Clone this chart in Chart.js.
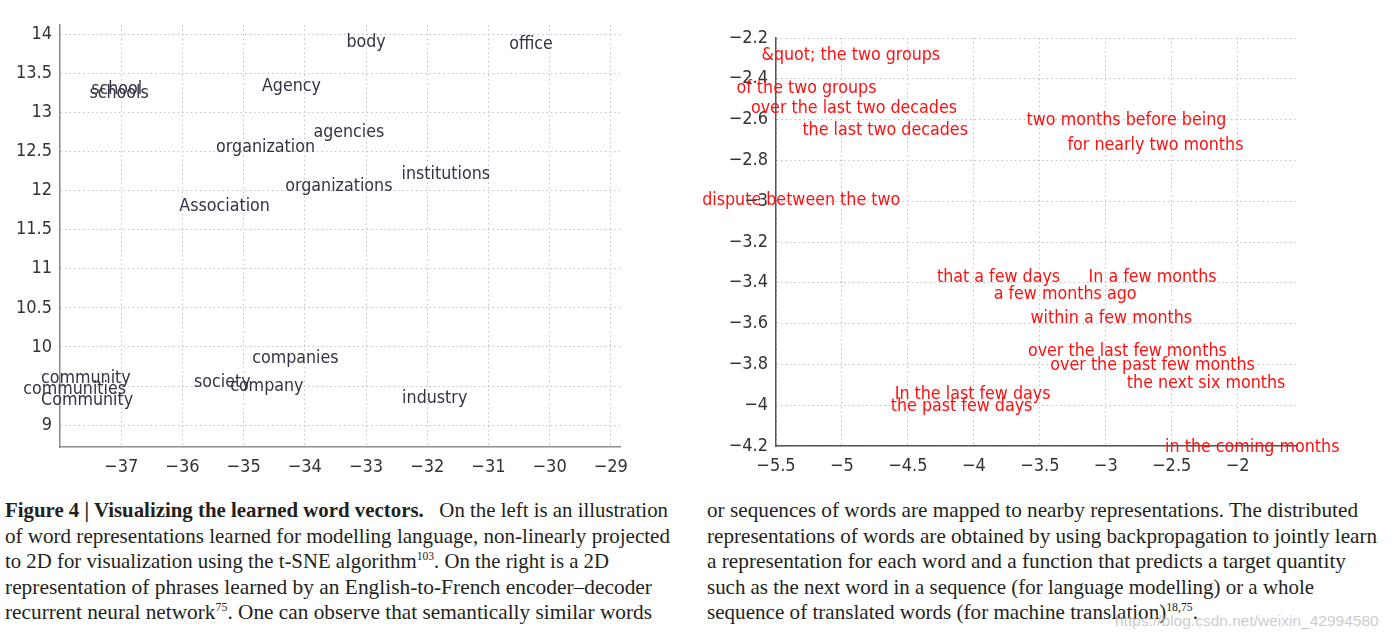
<!DOCTYPE html>
<html>
<head>
<meta charset="utf-8">
<script src="https://cdn.jsdelivr.net/npm/chart.js@4.4.1/dist/chart.umd.min.js"></script>
<style>
  body { margin: 0; background: #fff; width: 1393px; height: 641px; overflow: hidden; position: relative; }
  #leftBox { position: absolute; left: 0; top: 0; width: 640px; height: 480px; }
  #rightBox { position: absolute; left: 690px; top: 0; width: 680px; height: 480px; }
  .cap { position: absolute; top: 498px; font-family: "Liberation Serif", serif; font-size: 21.5px; color: #231f20; }
  .cap div { white-space: nowrap; height: 25.5px; line-height: 25.5px; }
  .cap .l { display: inline-block; transform-origin: 0 50%; }
  .cap sup { font-size: 12px; vertical-align: 8px; line-height: 0; }
  #mark { position: absolute; left: 1115px; top: 612px; font-family: "Liberation Sans", sans-serif; font-size: 15.5px; color: rgba(190,190,190,0.8); }
</style>
</head>
<body>
<div id="leftBox"><canvas id="leftChart"></canvas></div>
<div id="rightBox"><canvas id="rightChart"></canvas></div>

<div class="cap" style="left:5px">
  <div><span class="l" data-w="663"><b>Figure 4 | Visualizing the learned word vectors.</b>&nbsp;&nbsp; On the left is an illustration</span></div>
  <div><span class="l" data-w="665">of word representations learned for modelling language, non-linearly projected</span></div>
  <div><span class="l" data-w="604">to 2D for visualization using the t-SNE algorithm<sup>103</sup>. On the right is a 2D</span></div>
  <div><span class="l" data-w="647">representation of phrases learned by an English-to-French encoder–decoder</span></div>
  <div><span class="l" data-w="647">recurrent neural network<sup>75</sup>. One can observe that semantically similar words</span></div>
</div>
<div class="cap" style="left:707px">
  <div><span class="l" data-w="651">or sequences of words are mapped to nearby representations. The distributed</span></div>
  <div><span class="l" data-w="670">representations of words are obtained by using backpropagation to jointly learn</span></div>
  <div><span class="l" data-w="639">a representation for each word and a function that predicts a target quantity</span></div>
  <div><span class="l" data-w="607">such as the next word in a sequence (for language modelling) or a whole</span></div>
  <div><span class="l" data-w="491">sequence of translated words (for machine translation)<sup>18,75</sup>.</span></div>
</div>
<div id="mark">https://blog.csdn.net/weixin_42994580</div>

<script>
// left panel: words (t-SNE)
const leftWords = ['body', 'office', 'school', 'schools', 'Agency', 'agencies', 'organization',
  'institutions', 'organizations', 'Association', 'companies', 'community', 'communities',
  'Community', 'society', 'company', 'industry'];
const leftX = [-33.32, -30.66, -37.49, -37.52, -34.70, -33.86, -35.45, -32.42, -34.32, -36.05,
  -34.86, -38.31, -38.60, -38.31, -35.81, -35.22, -32.41];
const leftY = [13.90, 13.87, 13.29, 13.24, 13.33, 12.74, 12.55, 12.21, 12.05, 11.80,
  9.85, 9.60, 9.46, 9.32, 9.55, 9.50, 9.34];
const leftXTicks = [-37, -36, -35, -34, -33, -32, -31, -30, -29];
const leftYTicks = [9, 9.5, 10, 10.5, 11, 11.5, 12, 12.5, 13, 13.5, 14];
const leftYTickText = ['9', '', '10', '10.5', '11', '11.5', '12', '12.5', '13', '13.5', '14'];

// right panel: phrases (encoder-decoder)
const rightPhrases = ['&quot; the two groups', 'of the two groups', 'over the last two decades',
  'the last two decades', 'two months before being', 'for nearly two months',
  'dispute between the two', 'that a few days', 'In a few months', 'a few months ago',
  'within a few months', 'over the last few months', 'over the past few months',
  'the next six months', 'In the last few days', 'the past few days', 'in the coming months'];
const rightX = [-5.61, -5.80, -5.69, -5.30, -3.60, -3.29, -6.06, -4.28, -3.13, -3.85,
  -3.57, -3.59, -3.42, -2.84, -4.60, -4.63, -2.55];
const rightY = [-2.285, -2.445, -2.545, -2.655, -2.605, -2.725, -2.995, -3.375, -3.375, -3.455,
  -3.575, -3.735, -3.805, -3.895, -3.945, -4.005, -4.205];
const rightXTicks = [-5.5, -5, -4.5, -4, -3.5, -3, -2.5, -2];
const rightYTicks = [-4.2, -4, -3.8, -3.6, -3.4, -3.2, -3, -2.8, -2.6, -2.4, -2.2];

const chartFont = '"Liberation Sans Narrow", "DejaVu Sans Condensed", sans-serif';
const minus = v => String(v).replace('-', '\u2212');

// draws each word at its data point, left aligned / vertically centred
const wordLabels = {
  id: 'wordLabels',
  afterDatasetsDraw(chart, args, opts) {
    const ctx = chart.ctx;
    const ds = chart.data.datasets[0];
    const meta = chart.getDatasetMeta(0);
    ctx.save();
    ctx.font = opts.size + 'px ' + chartFont;
    ctx.fillStyle = opts.color;
    ctx.textAlign = 'left';
    ctx.textBaseline = 'middle';
    meta.data.forEach((pt, i) => ctx.fillText(ds.words[i], pt.x, pt.y));
    ctx.restore();
  }
};

function makeScatter(id, words, xs, ys, cfg) {
  return new Chart(document.getElementById(id), {
    type: 'scatter',
    data: {
      datasets: [{
        words: words,
        data: xs.map((x, i) => ({ x: x, y: ys[i] })),
        pointRadius: 0,
        pointHoverRadius: 0,
        clip: false
      }]
    },
    plugins: [wordLabels],
    options: {
      responsive: true,
      maintainAspectRatio: false,
      animation: false,
      events: [],
      layout: { padding: cfg.padding },
      plugins: {
        legend: { display: false },
        tooltip: { enabled: false },
        wordLabels: { size: cfg.textSize, color: cfg.textColor }
      },
      scales: {
        x: {
          type: 'linear',
          min: cfg.xMin, max: cfg.xMax,
          afterBuildTicks: s => { s.ticks = cfg.xTicks.map(v => ({ value: v })); },
          afterFit: s => { s.height = cfg.xAxisHeight; },
          grid: { color: '#c2c2c2', lineWidth: 1, drawTicks: false },
          border: { display: true, color: cfg.axisColor, width: 1.5, dash: [1.5, 3] },
          ticks: {
            color: '#333', padding: 10, maxRotation: 0, autoSkip: false,
            font: { family: chartFont, size: cfg.tickSize },
            callback: v => minus(v)
          }
        },
        y: {
          type: 'linear',
          min: cfg.yMin, max: cfg.yMax,
          afterBuildTicks: s => { s.ticks = cfg.yTicks.map(v => ({ value: v })); },
          afterFit: s => { s.width = cfg.yAxisWidth; },
          grid: { color: '#c2c2c2', lineWidth: 1, drawTicks: false },
          border: { display: true, color: cfg.axisColor, width: 1.5, dash: [1.5, 3] },
          ticks: {
            color: '#333', padding: 8, autoSkip: false,
            font: { family: chartFont, size: cfg.tickSize },
            callback: cfg.yLabel
          }
        }
      }
    }
  });
}

makeScatter('leftChart', leftWords, leftX, leftY, {
  xMin: -38, xMax: -28.85, yMin: 8.72, yMax: 14.12,
  xTicks: leftXTicks, yTicks: leftYTicks,
  yLabel: (v, i) => minus(leftYTickText[i]),
  padding: { top: 25, right: 20, left: 0, bottom: 0 },
  xAxisHeight: 33, yAxisWidth: 60,
  axisColor: '#8c8c8c', textColor: '#333344', textSize: 17.7, tickSize: 18
});

makeScatter('rightChart', rightPhrases, rightX, rightY, {
  xMin: -5.5, xMax: -1.55, yMin: -4.2, yMax: -2.2,
  xTicks: rightXTicks, yTicks: rightYTicks,
  yLabel: v => minus(v),
  padding: { top: 38, right: 73, left: 0, bottom: 0 },
  xAxisHeight: 34, yAxisWidth: 86,
  axisColor: '#555', textColor: '#ff1010', textSize: 17.7, tickSize: 18
});

// squeeze each caption line to the width it has in the printed figure
document.querySelectorAll('.cap .l').forEach(el => {
  const w = el.getBoundingClientRect().width;
  el.style.transform = 'scaleX(' + (el.dataset.w / w) + ')';
});
</script>
</body>
</html>
